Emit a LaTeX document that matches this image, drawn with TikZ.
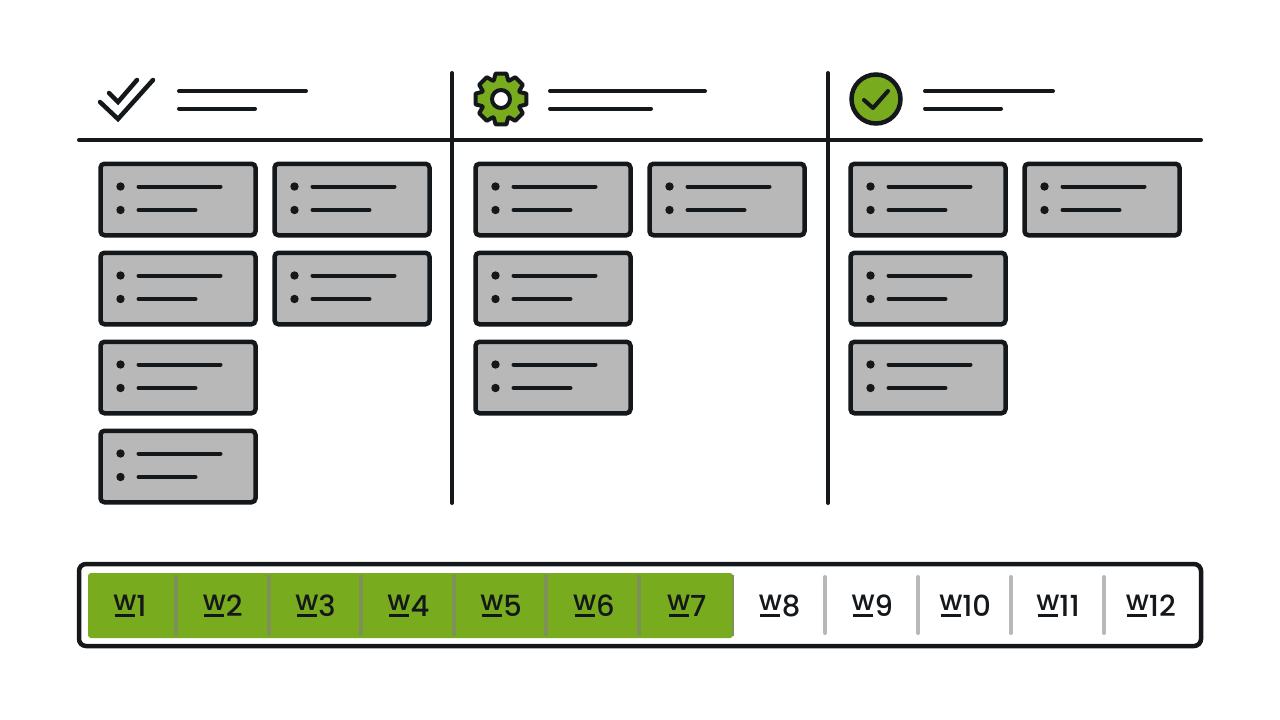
\documentclass[tikz,border=0pt]{standalone}
\usepackage{fontspec}
\setmainfont{Poppins}
\newfontfamily\weekfont{Poppins Medium}
\usetikzlibrary{calc,positioning}
\definecolor{ink}{HTML}{14181A}
\definecolor{cardgray}{HTML}{B8B8B8}
\definecolor{leaf}{HTML}{78AB1E}
\tikzstyle{card} =
  [rectangle, draw=ink, fill=cardgray, line width=4.5pt, rounded corners=4pt,
   minimum width=155pt, minimum height=71.5pt]
\tikzstyle{rule} = [draw=ink, line width=4pt, line cap=round]
\tikzstyle{week} = [text=ink, inner sep=0pt, font=\weekfont\fontsize{29}{29}\selectfont]
\newcommand{\cardlines}[1]{
  \fill [ink] ($(#1.center)+(-57.5,-13)$) circle (4.2);
  \fill [ink] ($(#1.center)+(-57.5,10.5)$) circle (4.2);
  \draw [rule] ($(#1.center)+(-39.5,-13)$) -- ($(#1.center)+(42.5,-13)$);
  \draw [rule] ($(#1.center)+(-39.5,10.5)$) -- ($(#1.center)+(17.5,10.5)$);
}
\newcommand{\wk}[1]{\makebox[21pt][c]{\makebox[0pt][c]{\rule{20pt}{3pt}}%
  \makebox[0pt][c]{\raisebox{6pt}{\fontsize{28}{28}\selectfont w}}}\kern1pt #1}
\begin{document}
\begin{tikzpicture}[x=1pt, y=-1pt]
  \useasboundingbox (0,0) rectangle (1280,720);

  % board
  \draw [rule] (79,140) -- (1201,140);
  \draw [rule] (452,73) -- (452,503);
  \draw [rule] (828,73) -- (828,503);

  % headers
  \draw [rule] (179,91) -- (306,91);
  \draw [rule] (179,108.5) -- (255,108.5);
  \draw [rule] (550,91) -- (705,91);
  \draw [rule] (550,108.5) -- (651,108.5);
  \draw [rule] (925,91) -- (1053,91);
  \draw [rule] (925,108.5) -- (1001,108.5);

  % icons
  \draw [rule, line width=4.5pt, line join=miter] (100,102) -- (118,119) -- (153,80);
  \draw [rule, line width=4.5pt, line join=miter] (109,93) -- (118,102) -- (137,80);
  \begin{scope}[shift={(501,99)}]
    \draw [draw=ink, fill=leaf, line width=4pt, line join=round]
      (-20:20) \foreach \a in {0,45,...,315} {
        -- (\a-12:26) -- (\a+12:26) -- (\a+21:20) -- (\a+24:20)} -- cycle;
    \draw [draw=ink, fill=white, line width=4pt] (0,0) circle (9);
  \end{scope}
  \draw [draw=ink, fill=leaf, line width=4.5pt] (876,99) circle (24.5);
  \draw [rule, line join=round] (864,100) -- (873,108) -- (888,91);

  % first column
  \node [card] (a1) at (178,199.5) {};
  \node [card, right of=a1, node distance=174pt] (a2) {};
  \node [card, below of=a1, node distance=89pt] (a3) {};
  \node [card, right of=a3, node distance=174pt] (a4) {};
  \node [card, below of=a3, node distance=89pt] (a5) {};
  \node [card, below of=a5, node distance=89pt] (a6) {};

  % second column
  \node [card] (b1) at (553,199.5) {};
  \node [card, right of=b1, node distance=174pt] (b2) {};
  \node [card, below of=b1, node distance=89pt] (b3) {};
  \node [card, below of=b3, node distance=89pt] (b4) {};

  % third column
  \node [card] (c1) at (928,199.5) {};
  \node [card, right of=c1, node distance=174pt] (c2) {};
  \node [card, below of=c1, node distance=89pt] (c3) {};
  \node [card, below of=c3, node distance=89pt] (c4) {};

  \foreach \c in {a1,a2,a3,a4,a5,a6,b1,b2,b3,b4,c1,c2,c3,c4} {
    \cardlines{\c}
  }

  % week bar
  \draw [draw=ink, fill=white, line width=4.5pt, rounded corners=7pt]
    (79,564) rectangle (1201,646);
  \fill [leaf, rounded corners=3pt] (88,573) rectangle (733,638);
  \foreach \x in {176,269,361,454,546,639} {
    \draw [draw=leaf!40!gray, line width=3.5pt] (\x,575) -- (\x,636);
  }
  \draw [draw=leaf!40!gray, line width=2.5pt] (733,575) -- (733,636);
  \foreach \x in {825,918,1011,1104} {
    \draw [draw=cardgray, line width=4pt, line cap=round] (\x,577) -- (\x,633);
  }
  \node [week] (w1) at (130.5,606) {\wk{1}};
  \foreach \n/\p in {2/1,3/2,4/3,5/4,6/5,7/6,8/7,9/8,10/9,11/10,12/11} {
    \node [week, right of=w\p, node distance=92.8pt] (w\n) {\wk{\n}};
  }
\end{tikzpicture}
\end{document}
